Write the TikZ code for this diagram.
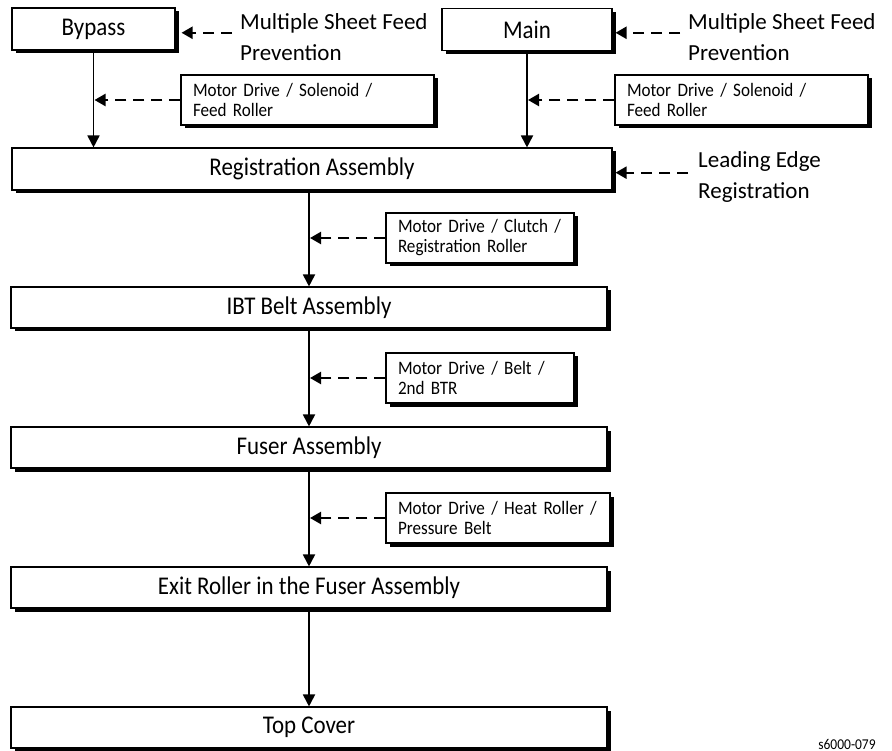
\documentclass[tikz,border=0pt]{standalone}
\usepackage{fontspec}
\setmainfont{Carlito}
\newfontfamily\stretto[FakeStretch=0.9]{Carlito}
\usetikzlibrary{arrows.meta, shadows}

\begin{document}
\begin{tikzpicture}[
  x=1pt, y=-1pt,
  font=\fontsize{23}{31}\selectfont,
  blocco/.style={draw=black, line width=1.1pt, fill=white, inner sep=0pt,
                 font=\stretto\fontsize{25.5}{28}\selectfont,
                 drop shadow={shadow xshift=3.5pt, shadow yshift=-3.5pt,
                              fill=black, opacity=1}},
  sorgente/.style={blocco, minimum height=42pt},
  gruppo/.style={blocco, minimum width=596pt, minimum height=41pt},
  comando/.style={blocco, font=\stretto\fontsize{19}{20}\selectfont, align=left,
                  inner xsep=12pt, minimum height=50pt},
  nota/.style={inner sep=0pt, align=left, anchor=north west},
  flusso/.style={draw=black, line width=1.8pt,
                 -{Triangle[width=12pt, length=12pt]}},
  rinvio/.style={draw=black, line width=2.2pt, dash pattern=on 11pt off 7pt,
                 -{Triangle[width=12pt, length=11pt]}, shorten >=1pt}
]

% riquadro fisso dell'immagine (892 x 751)
\useasboundingbox (0,0) rectangle (892,751);

% ---- sorgenti della carta ----------------------------------------
\node[sorgente, minimum width=163pt] (bypass) at (93.5,29)  {Bypass};
\node[sorgente, minimum width=170pt] (main)   at (527,29.5) {Main};

\node[nota] (msf1) at (240,13) {Multiple Sheet Feed\\Prevention};
\node[nota] (msf2) at (688,13) {Multiple Sheet Feed\\Prevention};

\node[comando, text width=229pt] (sol1) at (307.5,100) {Motor Drive / Solenoid /\\Feed Roller};
\node[comando, text width=229pt] (sol2) at (741.5,100) {Motor Drive / Solenoid /\\Feed Roller};

% ---- percorso della carta ----------------------------------------
\node[blocco, minimum width=600pt, minimum height=42pt] (regist) at (312,169) {Registration Assembly};
\node[nota] (leading) at (698,151) {Leading Edge\\Registration};

\node[comando, text width=164pt] (clutch) at (480,238) {Motor Drive / Clutch /\\Registration Roller};
\node[gruppo] (ibt) at (309,307.5) {IBT Belt Assembly};

\node[comando, text width=164pt] (belt) at (480,378) {Motor Drive / Belt /\\2nd BTR};
\node[gruppo] (fuser) at (309,447.5) {Fuser Assembly};

\node[comando, text width=200pt] (heat) at (498,518) {Motor Drive / Heat Roller /\\Pressure Belt};
\node[gruppo] (exit) at (309,587.5) {Exit Roller in the Fuser Assembly};

\node[gruppo] (cover) at (309,727.5) {Top Cover};

\node[font=\stretto\fontsize{15}{15}\selectfont, anchor=base] (sigla) at (847,749) {s6000-079};

% ---- flusso principale ---------------------------------------------
\draw[flusso] (bypass.south) -- (bypass.south |- regist.north);
\draw[flusso] (main.south) -- (main.south |- regist.north);
\draw[flusso] (ibt.north |- regist.south) -- (ibt.north);
\draw[flusso] (ibt.south) -- (fuser.north);
\draw[flusso] (fuser.south) -- (exit.north);
\draw[flusso] (exit.south) -- (cover.north);

% ---- rinvii tratteggiati -------------------------------------------
\draw[rinvio] (sol1.west) -- (sol1.west -| bypass.south);
\draw[rinvio] (sol2.west) -- (sol2.west -| main.south);
\draw[rinvio] (clutch.west) -- (clutch.west -| ibt.north);
\draw[rinvio] (belt.west) -- (belt.west -| fuser.north);
\draw[rinvio] (heat.west) -- (heat.west -| exit.north);

% note laterali -> blocchi
\draw[rinvio, shorten <=8pt, shorten >=6pt]
  ([yshift=4pt]msf1.west) -- ([yshift=4pt]msf1.west -| bypass.east);
\draw[rinvio, shorten <=8pt, shorten >=3pt]
  ([yshift=4pt]msf2.west) -- ([yshift=4pt]msf2.west -| main.east);
\draw[rinvio, shorten <=10pt, shorten >=3pt]
  ([yshift=4pt]leading.west) -- ([yshift=4pt]leading.west -| regist.east);

\end{tikzpicture}
\end{document}
